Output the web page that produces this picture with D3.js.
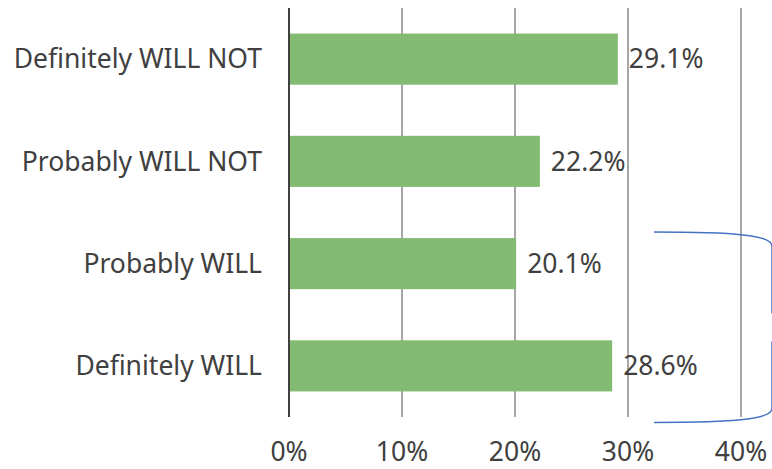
<!DOCTYPE html>
<html>
<head>
<meta charset="utf-8">
<script src="https://cdn.jsdelivr.net/npm/d3@7"></script>
<style>
  html, body { margin: 0; padding: 0; background: #ffffff; }
  svg { display: block; font-family: "Segoe UI", "Noto Sans", "Open Sans", sans-serif; }
</style>
</head>
<body>
<div id="chart"></div>
<script>
const categories = ['Definitely WILL NOT', 'Probably WILL NOT', 'Probably WILL', 'Definitely WILL'];
const values = [29.1, 22.2, 20.1, 28.6];
const xTicks = [0, 10, 20, 30, 40];

const width = 772, height = 469;
const MARGIN = { top: 8, right: 31, bottom: 52, left: 289 };
const innerW = width - MARGIN.left - MARGIN.right;
const innerH = height - MARGIN.top - MARGIN.bottom;
const FONT = '26.5px';

const svg = d3.select('#chart').append('svg')
  .attr('width', width)
  .attr('height', height);

const g = svg.append('g').attr('transform', `translate(${MARGIN.left},${MARGIN.top})`);

const x = d3.scaleLinear().domain([0, 40]).range([0, 452]);
const y = d3.scaleBand().domain(categories).range([0, innerH]).paddingInner(0.5).paddingOuter(0.25);

// vertical gridlines
g.append('g')
  .selectAll('line')
  .data(xTicks.filter(d => d > 0))
  .join('line')
  .attr('x1', d => x(d)).attr('x2', d => x(d))
  .attr('y1', 0).attr('y2', innerH)
  .attr('stroke', '#a6a6a6')
  .attr('stroke-width', 2);

// bars
g.append('g')
  .selectAll('rect')
  .data(values)
  .join('rect')
  .attr('x', 0)
  .attr('y', (d, i) => y(categories[i]))
  .attr('width', d => x(d))
  .attr('height', y.bandwidth())
  .attr('fill', '#84bb73');

// category axis line
g.append('line')
  .attr('x1', 0).attr('x2', 0)
  .attr('y1', 0).attr('y2', innerH)
  .attr('stroke', '#404040')
  .attr('stroke-width', 2);

// category labels
g.append('g')
  .selectAll('text')
  .data(categories)
  .join('text')
  .attr('x', -27)
  .attr('y', d => y(d) + y.bandwidth() / 2)
  .attr('dy', '0.35em')
  .attr('text-anchor', 'end')
  .attr('fill', '#404040')
  .style('font-size', FONT)
  .text(d => d);

// value labels
g.append('g')
  .selectAll('text')
  .data(values)
  .join('text')
  .attr('x', d => x(d) + 11)
  .attr('y', (d, i) => y(categories[i]) + y.bandwidth() / 2)
  .attr('dy', '0.35em')
  .attr('fill', '#404040')
  .style('font-size', FONT)
  .text(d => d.toFixed(1) + '%');

// x tick labels
g.append('g')
  .selectAll('text')
  .data(xTicks)
  .join('text')
  .attr('x', d => x(d))
  .attr('y', innerH + 44)
  .attr('text-anchor', 'middle')
  .attr('fill', '#404040')
  .style('font-size', FONT)
  .text(d => d + '%');

// right brace grouping the two "WILL" answers
const y0 = MARGIN.top + y('Probably WILL') - 6;
const y1 = MARGIN.top + y('Definitely WILL') + y.bandwidth() + 31;
const bx = 654, bx2 = 772, mid = (y0 + y1) / 2;
svg.append('path')
  .attr('d', `M${bx},${y0} C${bx + 80},${y0} ${bx2},${y0 + 3} ${bx2},${y0 + 14}`
    + ` L${bx2},${mid - 14} M${bx2},${mid + 14} L${bx2},${y1 - 14}`
    + ` C${bx2},${y1 - 3} ${bx + 80},${y1} ${bx},${y1}`)
  .attr('fill', 'none')
  .attr('stroke', '#4472c4')
  .attr('stroke-width', 1.5);
</script>
</body>
</html>
